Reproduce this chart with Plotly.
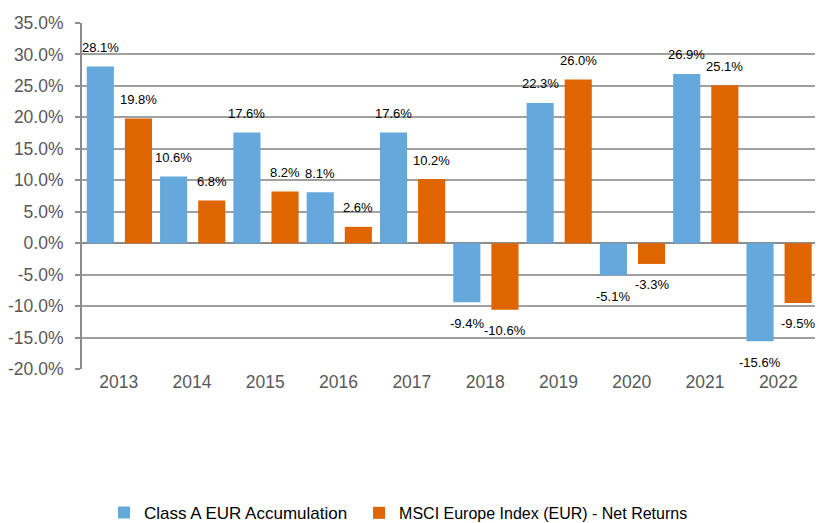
import plotly.graph_objects as go

years = ["2013", "2014", "2015", "2016", "2017", "2018", "2019", "2020", "2021", "2022"]
class_a = [28.1, 10.6, 17.6, 8.1, 17.6, -9.4, 22.3, -5.1, 26.9, -15.6]
msci = [19.8, 6.8, 8.2, 2.6, 10.2, -10.6, 26.0, -3.3, 25.1, -9.5]
series_names = ["Class A EUR Accumulation", "MSCI Europe Index (EUR) - Net Returns"]
colors = ["#65A9DC", "#DE6500"]
y_ticks = [35, 30, 25, 20, 15, 10, 5, 0, -5, -10, -15, -20]

FONT = "Liberation Sans, Arial, sans-serif"

fig = go.Figure()
offsets = [-0.435, 0.085]
legend_ids = ["legend", "legend2"]
for name, vals, col, off, lg in zip(series_names, [class_a, msci], colors, offsets, legend_ids):
    fig.add_trace(go.Bar(
        x=years, y=vals, name=name, marker=dict(color=col, line=dict(width=0)),
        width=0.37, offset=off, legend=lg,
    ))

annotations = []
for vals, off in zip([class_a, msci], offsets):
    for i, (yr, v) in enumerate(zip(years, vals)):
        annotations.append(dict(
            x=i + off + 0.185, y=v, xref="x", yref="y", text=f"{v:.1f}%",
            showarrow=False, yshift=19 if v >= 0 else -21,
            font=dict(size=13, color="#000000", family=FONT),
        ))

legend_style = dict(orientation="h", xanchor="left", y=-0.416, yanchor="middle",
                    bgcolor="rgba(0,0,0,0)")

fig.update_layout(
    width=819, height=523,
    margin=dict(l=82, r=4, t=23, b=154, autoexpand=False),
    barmode="overlay",
    plot_bgcolor="white", paper_bgcolor="white",
    font=dict(family=FONT),
    annotations=annotations,
    showlegend=True,
    legend=dict(x=0.030, font=dict(size=17, color="#000000"), **legend_style),
    legend2=dict(x=0.378, font=dict(size=16, color="#000000"), **legend_style),
    xaxis=dict(type="category", range=[-0.5, 9.5], showgrid=False, ticks="",
               tickfont=dict(size=17.5, color="#595959"), showline=False, zeroline=False,
               automargin=False),
    yaxis=dict(range=[-20, 35], tickvals=y_ticks,
               ticktext=[f"{t:.1f}%" for t in y_ticks],
               tickfont=dict(size=17.5, color="#595959"),
               showgrid=True, gridcolor="#A0A0A0", gridwidth=1.5,
               zeroline=True, zerolinecolor="#8C8C8C", zerolinewidth=2,
               showline=True, linecolor="#8C8C8C", linewidth=2,
               ticks="outside", ticklen=5, tickcolor="#8C8C8C", tickwidth=1.5,
               ticklabelstandoff=8, automargin=False),
)

fig.write_html(
    "out.html",
    config={"displayModeBar": False},
    post_script="document.body.style.margin='0';document.body.style.overflow='hidden';",
)
